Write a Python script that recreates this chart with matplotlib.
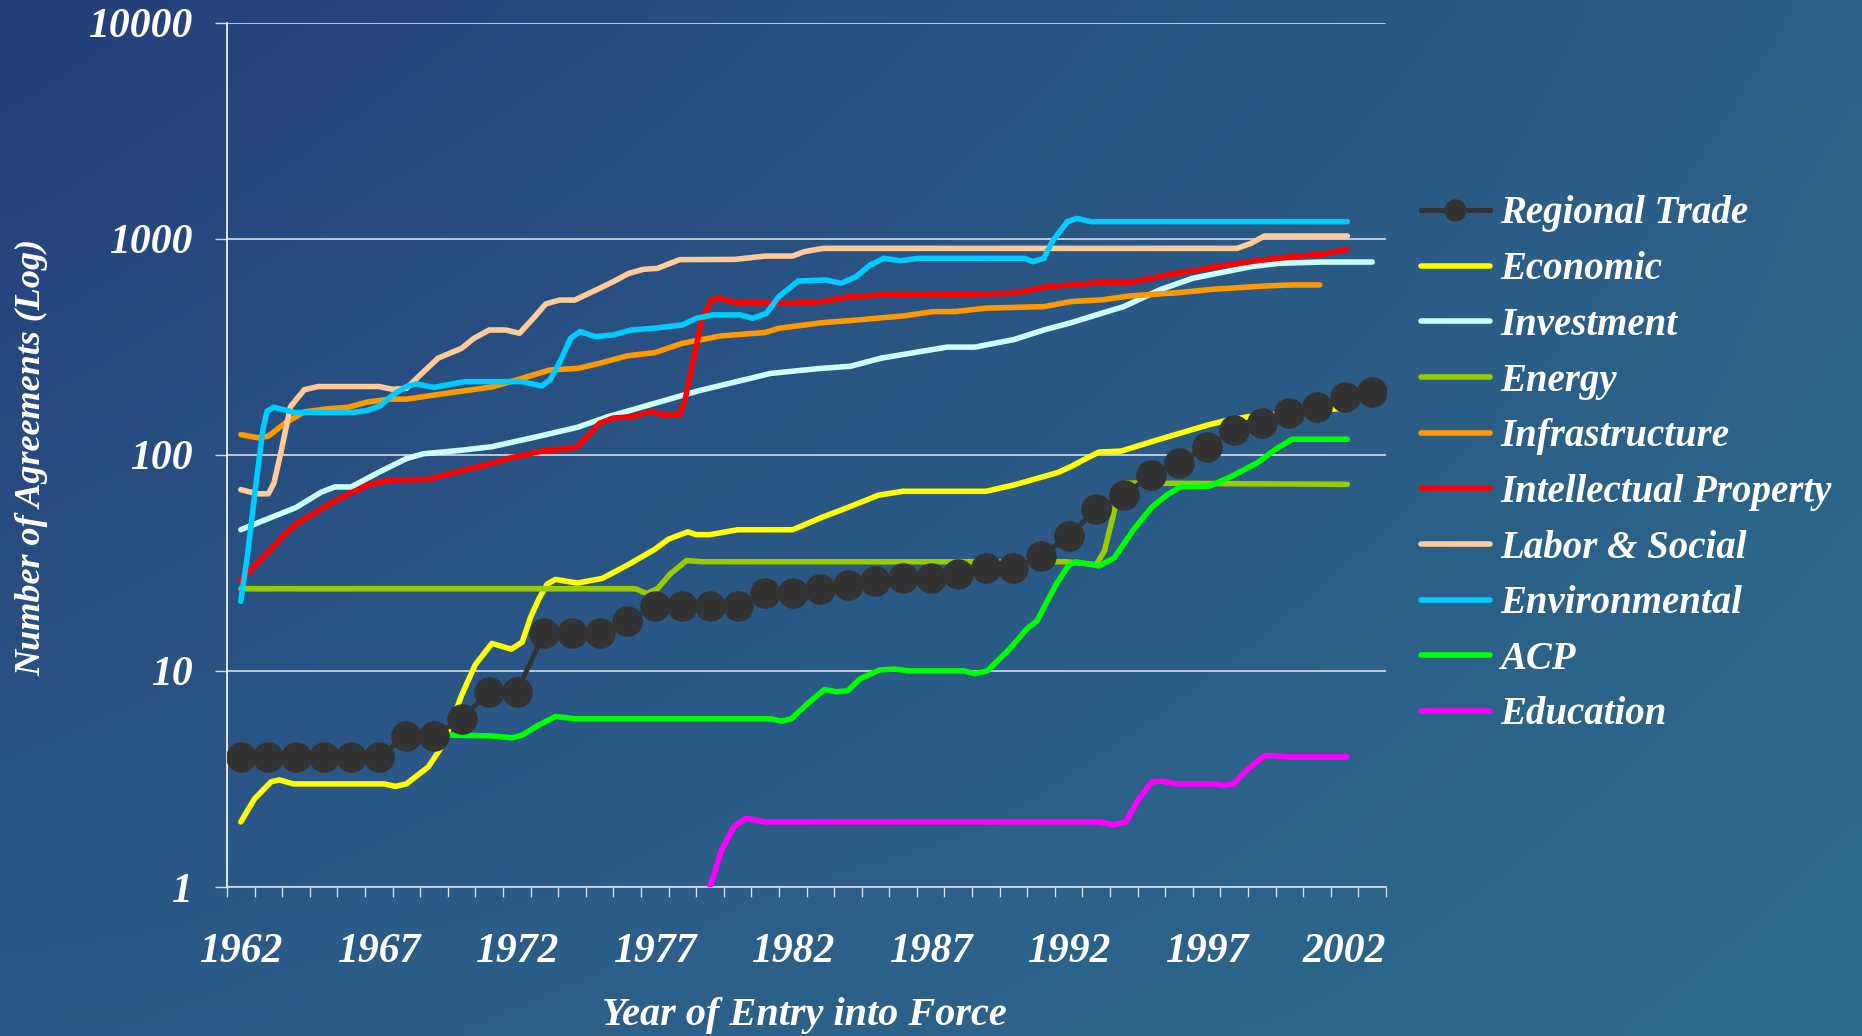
import numpy as np
import matplotlib
matplotlib.use("Agg")
import matplotlib.pyplot as plt
from matplotlib.font_manager import FontProperties

# ---------------- data ----------------
rt_years = list(range(1962, 2004))
rt_values = [4, 4, 4, 4, 4, 4, 5, 5, 6, 8, 8, 15, 15, 15, 17, 20, 20, 20, 20, 23, 23,
             24, 25, 26, 27, 27, 28, 30, 30, 34, 42, 56, 65, 81, 92, 109, 130, 141,
             156, 167, 186, 196]

econ_years = [1962.0, 1962.5, 1963.1, 1963.4, 1963.9, 1967.2, 1967.6, 1968.0, 1968.8, 1969.25,
              1969.6, 1970.0, 1970.5, 1971.1, 1971.8, 1972.2, 1972.5, 1972.8, 1973.1, 1973.4,
              1974.2, 1975.1, 1976.0, 1977.0, 1977.5, 1978.2, 1978.5, 1979.0, 1980.0, 1982.0,
              1983.1, 1983.9, 1984.5, 1985.1, 1986.0, 1989.0, 1990.0, 1991.6, 1992.1, 1992.6,
              1993.1, 1993.9, 1995.2, 1996.05, 1997.1, 1997.6, 1998.5, 2000.5, 2002.1]
econ_values = [2.0, 2.56, 3.07, 3.13, 3.0, 3.0, 2.92, 3.0, 3.6, 4.4,
               5.6, 7.7, 10.7, 13.4, 12.6, 13.6, 17.7, 21.5, 25.2, 26.5,
               25.5, 26.8, 30.8, 36.5, 40.7, 44, 42.7, 42.7, 45, 45,
               51.6, 56.4, 60.5, 65, 67.8, 67.8, 72.4, 82.7, 88.4, 95.6,
               103, 104, 117, 126, 138, 143, 150, 158, 165]

inv_years = [1962.0, 1963.0, 1964.0, 1964.9, 1965.4, 1966.0, 1967.0, 1968.0, 1968.6, 1970.0,
             1971.1, 1972.7, 1974.2, 1975.3, 1977.0, 1978.6, 1981.2, 1983.0, 1984.1, 1985.2,
             1986.6, 1987.6, 1988.6, 1990.0, 1991.1, 1992.1, 1993.2, 1994.0, 1995.3, 1996.5,
             1997.7, 1998.6, 1999.6, 2001.2, 2003.0]
inv_values = [45, 50.7, 57, 67, 71, 71, 83, 96, 101, 105,
              109, 121, 134, 150, 173, 198, 238, 251, 257, 280,
              300, 315, 315, 341, 378, 409, 452, 485, 580, 656,
              704, 742, 769, 780, 780]

energy_years = [1962.0, 1976.3, 1976.7, 1977.1, 1977.55, 1978.15, 1978.75, 1991.9, 1993.0,
                1993.3, 1993.7, 1994.05, 2002.1]
energy_values = [24, 24, 22.8, 24, 28, 32.4, 32, 32, 31, 36, 58, 74, 73]

infra_years = [1962.0, 1962.6, 1963.0, 1963.6, 1964.3, 1965.1, 1965.9, 1966.55, 1967.4, 1968.0,
               1969.5, 1971.1, 1972.2, 1973.2, 1974.2, 1975.0, 1976.0, 1977.0, 1978.0, 1979.4,
               1981.0, 1981.5, 1983.1, 1984.1, 1986.0, 1987.1, 1987.9, 1989.0, 1991.1, 1992.1,
               1993.2, 1994.2, 1996.0, 1997.2, 1999.1, 2000.1, 2001.1]
infra_values = [124, 120, 122, 140, 158, 163, 166, 175, 181, 181,
                193, 206, 226, 247, 251, 265, 287, 297, 328, 355,
                368, 385, 409, 418, 439, 460, 460, 477, 485, 512,
                521, 543, 563, 583, 604, 611, 611]

ip_years = [1962.0, 1963.0, 1963.55, 1964.0, 1964.9, 1965.6, 1966.6, 1967.4, 1968.8, 1970.1,
            1970.9, 1971.8, 1972.9, 1973.9, 1974.2, 1975.0, 1975.5, 1976.15, 1976.9, 1977.3,
            1977.9, 1978.1, 1978.4, 1978.7, 1979.05, 1979.3, 1980.0, 1982.0, 1983.1, 1984.1,
            1985.2, 1987.1, 1990.0, 1991.25, 1992.1, 1993.2, 1994.2, 1995.6, 1997.35, 1998.75,
            2000.1, 2001.2, 2002.1]
ip_values = [26.3, 35.4, 42.4, 47.7, 56, 63, 72.5, 76.4, 77, 85,
             90, 97, 104, 107, 109, 140, 148, 150, 159, 153,
             153, 180, 276, 421, 520, 530, 506, 502, 512, 540,
             549, 549, 559, 600, 611, 627, 627, 680, 742, 789,
             826, 849, 893]

labor_years = [1962.0, 1962.6, 1963.0, 1963.2, 1963.45, 1963.8, 1964.3, 1964.8, 1967.0, 1967.5,
               1968.0, 1968.5, 1969.15, 1970.0, 1970.45, 1971.0, 1971.6, 1972.1, 1972.6, 1973.05,
               1973.55, 1974.1, 1975.0, 1975.5, 1976.06, 1976.6, 1977.1, 1977.9, 1979.9, 1981.0,
               1982.0, 1982.4, 1983.1, 1998.1, 1998.6, 1999.1, 2002.1]
labor_values = [69, 66, 66, 74, 102, 167, 200, 207, 207, 201,
                203, 234, 280, 311, 346, 378, 378, 365, 428, 499,
                520, 520, 589, 633, 691, 722, 729, 800, 802, 831,
                831, 870, 902, 902, 951, 1029, 1029]

env_years = [1962.0, 1962.25, 1962.5, 1962.8, 1962.95, 1963.2, 1963.95, 1966.05, 1966.55, 1967.04,
             1967.5, 1968.0, 1968.35, 1969.0, 1970.1, 1972.2, 1972.9, 1973.2, 1973.6, 1973.95,
             1974.3, 1974.85, 1975.5, 1976.15, 1976.96, 1978.0, 1978.5, 1979.1, 1980.1, 1980.55,
             1981.05, 1981.5, 1982.2, 1983.2, 1983.75, 1984.3, 1984.8, 1985.3, 1985.9, 1986.55,
             1990.4, 1990.7, 1991.1, 1991.4, 1991.95, 1992.3, 1992.8, 2002.1]
env_values = [21, 35, 65, 131, 159, 166, 157, 157, 160, 168,
              189, 207, 213, 205, 218, 218, 208, 222, 275, 346,
              372, 352, 359, 378, 385, 399, 428, 444, 444, 428,
              452, 540, 637, 644, 622, 667, 755, 811, 791, 811,
              811, 783, 811, 968, 1199, 1242, 1199, 1199]

acp_years = [1969.5, 1971.1, 1971.85, 1972.2, 1972.75, 1973.4, 1974.15, 1981.2, 1981.6, 1981.95,
             1982.55, 1983.15, 1983.6, 1984.0, 1984.45, 1985.15, 1985.7, 1986.2, 1988.2, 1988.6,
             1989.05, 1989.8, 1990.5, 1990.85, 1991.2, 1991.55, 1992.0, 1992.25, 1993.1, 1993.65,
             1994.35, 1995.0, 1995.55, 1996.05, 1997.1, 1997.95, 1998.85, 1999.5, 2000.1, 2002.1]
acp_values = [5.05, 5.0, 4.9, 5.05, 5.57, 6.15, 6.0, 6.0, 5.85, 6.0,
              7.07, 8.2, 8.0, 8.1, 9.2, 10.1, 10.2, 10, 10, 9.7,
              10, 12.4, 15.7, 17, 20.7, 25.2, 30.8, 32, 30.6, 33.3,
              45, 57, 65, 71, 71.6, 80, 92, 106, 118, 118]

edu_years = [1979.0, 1979.44, 1979.87, 1980.3, 1981.0, 1993.12, 1993.64, 1994.07, 1994.5, 1995.02,
             1995.37, 1995.9, 1997.27, 1997.6, 1997.97, 1998.5, 1999.1, 1999.5, 1999.87, 2002.1]
edu_values = [1.0, 1.5, 1.9, 2.08, 2.0, 2.0, 1.94, 2.0, 2.51, 3.07,
              3.09, 3.0, 3.0, 2.95, 3.0, 3.52, 4.05, 4.05, 4.0, 4.0]

series_labels = ["Regional Trade", "Economic", "Investment", "Energy", "Infrastructure",
                 "Intellectual Property", "Labor & Social", "Environmental", "ACP", "Education"]
series_colors = ["#333333", "#ffff00", "#ccffff", "#99cc00", "#ff9900",
                 "#ff0000", "#ffcc99", "#00ccff", "#00ff00", "#ff00ff"]

year_labels = list(range(1962, 2003, 5))
y_ticks = [1, 10, 100, 1000, 10000]

# ---------------- figure ----------------
W, H = 1862, 1036
fig = plt.figure(figsize=(W / 100, H / 100), dpi=100)

# background gradient
tl = np.array([37, 63, 122]) / 255
tr = np.array([44, 96, 136]) / 255
bl = np.array([43, 90, 136]) / 255
br = np.array([45, 106, 139]) / 255
u = np.linspace(0, 1, 200)[None, :, None]
v = np.linspace(0, 1, 120)[:, None, None]
grad = (1 - v) * ((1 - u) * tl + u * tr) + v * ((1 - u) * bl + u * br)
bg = fig.add_axes([0, 0, 1, 1], zorder=-1)
bg.imshow(grad, aspect="auto", extent=[0, 1, 0, 1], interpolation="bilinear")
bg.axis("off")

ax = fig.add_axes([227 / W, 1 - 887 / H, (1386 - 227) / W, (887 - 22.6) / H])
ax.patch.set_alpha(0)

font = FontProperties(family="Liberation Serif", weight="bold", style="italic", size=28)
tick_font = FontProperties(family="Liberation Serif", weight="bold", style="italic", size=30)
xlab_font = FontProperties(family="Liberation Serif", weight="bold", style="italic", size=29)
ylab_font = FontProperties(family="Liberation Serif", weight="bold", style="italic", size=26)

line_kw = dict(lw=4.0, solid_capstyle="round", solid_joinstyle="round")
data = [
    (econ_years, econ_values),
    (inv_years, inv_values),
    (energy_years, energy_values),
    (infra_years, infra_values),
    (ip_years, ip_values),
    (labor_years, labor_values),
    (env_years, env_values),
    (acp_years, acp_values),
    (edu_years, edu_values),
]
handles = []
rt_line, = ax.plot(rt_years, rt_values, color=series_colors[0], lw=3.5, marker="o",
                   markersize=21, markerfacecolor=series_colors[0],
                   markeredgecolor=series_colors[0], zorder=5, label=series_labels[0])
handles.append(rt_line)
for (xs, ys), c, lab in zip(data, series_colors[1:], series_labels[1:]):
    h, = ax.plot(xs, ys, color=c, label=lab, zorder=3, **line_kw)
    handles.append(h)

ax.set_yscale("log")
ax.set_ylim(1, 10000)
ax.set_xlim(rt_years[0] - 0.5, rt_years[-1] + 0.5)
ax.set_yticks(y_ticks)
ax.set_yticklabels([str(t) for t in y_ticks])
ax.yaxis.set_minor_locator(matplotlib.ticker.NullLocator())
ax.set_xticks(year_labels)
ax.set_xticklabels([str(y) for y in year_labels])
ax.set_xticks([y - 0.5 for y in rt_years] + [rt_years[-1] + 0.5], minor=True)

ax.tick_params(axis="x", which="major", length=0, pad=33, colors="white")
ax.tick_params(axis="x", which="minor", length=7.5, width=1, direction="out", color="#d8dde8")
ax.tick_params(axis="y", which="major", length=9, width=1, direction="out", color="#d8dde8",
               pad=16, colors="white")
ax.tick_params(axis="y", which="major", color="#d8dde8")
for lab in ax.get_xticklabels() + ax.get_yticklabels():
    lab.set_fontproperties(tick_font)
    lab.set_color("white")

ax.grid(axis="y", which="major", color="#d8dde8", lw=1.2)
ax.set_axisbelow(True)
for s in ["top", "right"]:
    ax.spines[s].set_visible(False)
ax.spines["left"].set_color("white")
ax.spines["left"].set_linewidth(1.2)
ax.spines["bottom"].set_color("#d8dde8")
ax.spines["bottom"].set_linewidth(1.2)

fig.text(804 / W, 1 - 1016 / H, "Year of Entry into Force", fontproperties=xlab_font,
         color="white", ha="center", va="center")
fig.text(32 / W, 1 - 457 / H, "Number of Agreements (Log)", fontproperties=ylab_font,
         color="white", ha="center", va="center", rotation=90)

leg = ax.legend(handles, series_labels, loc="upper left", bbox_to_anchor=(1421 / W, 1 - 195.5 / H),
                bbox_transform=fig.transFigure, frameon=False, prop=font,
                handlelength=1.77, handletextpad=0.26, labelspacing=0.48,
                borderpad=0, borderaxespad=0)
for t in leg.get_texts():
    t.set_color("white")
leg.legend_handles[0].set_markersize(15)

fig.savefig("out.png", dpi=100)
